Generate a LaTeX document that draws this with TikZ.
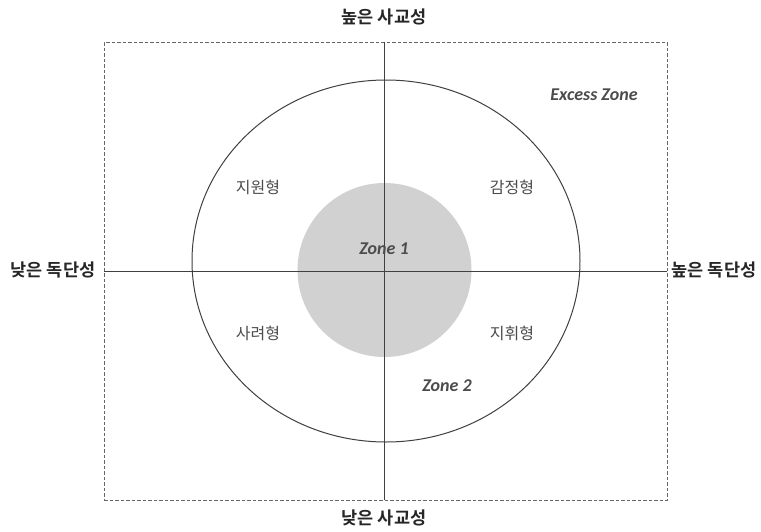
\documentclass[tikz,border=0pt]{standalone}
\usepackage{fontspec}
\setmainfont{Carlito}
\newfontfamily\kr{Noto Sans CJK KR}
\newfontfamily\krb{Noto Sans CJK KR Bold}
\begin{document}
\begin{tikzpicture}[x=1pt,y=-1pt,
  axislabel/.style={font=\krb\fontsize{17.5}{20}\selectfont, text=black!85},
  typelabel/.style={font=\kr\fontsize{16}{18}\selectfont, text=black!70},
  zonelabel/.style={font=\bfseries\itshape\fontsize{18}{20}\selectfont, text=black!70},
  frame/.style={draw=black!60, dashed, dash pattern=on 3.5pt off 2pt, line width=1pt},
  axis/.style={draw=black!75, line width=1pt},
  ring/.style={draw=black!75, line width=1pt}]
\useasboundingbox (0,0) rectangle (761,531);
\fill[white] (0,0) rectangle (761,531);
\node[frame, minimum width=563pt, minimum height=458pt, inner sep=0pt] (box) at (385.5,271) {};
\fill[black!18] (384.5,270) circle (87);
\draw[ring] (386,261) ellipse (194 and 181);
\coordinate (top) at (384,42);
\coordinate (bot) at (384,500);
\coordinate (lft) at (104,271);
\coordinate (rgt) at (667,271);
\draw[axis] (top) -- (bot);
\draw[axis] (lft) -- (rgt);
\node[axislabel] (hs) at (384,17) {높은 사교성};
\node[axislabel] (ls) at (384,518) {낮은 사교성};
\node[axislabel] (la) at (53,270) {낮은 독단성};
\node[axislabel] (ha) at (714,270) {높은 독단성};
\node[typelabel] (t1) at (258,187) {지원형};
\node[typelabel] (t2) at (512,187) {감정형};
\node[typelabel] (t3) at (258,333) {사려형};
\node[typelabel] (t4) at (512,333) {지휘형};
\node[zonelabel] (z1) at (384,249) {Zone 1};
\node[zonelabel] (z2) at (447,386) {Zone 2};
\node[zonelabel] (ez) at (594,95) {Excess Zone};
\end{tikzpicture}
\end{document}
